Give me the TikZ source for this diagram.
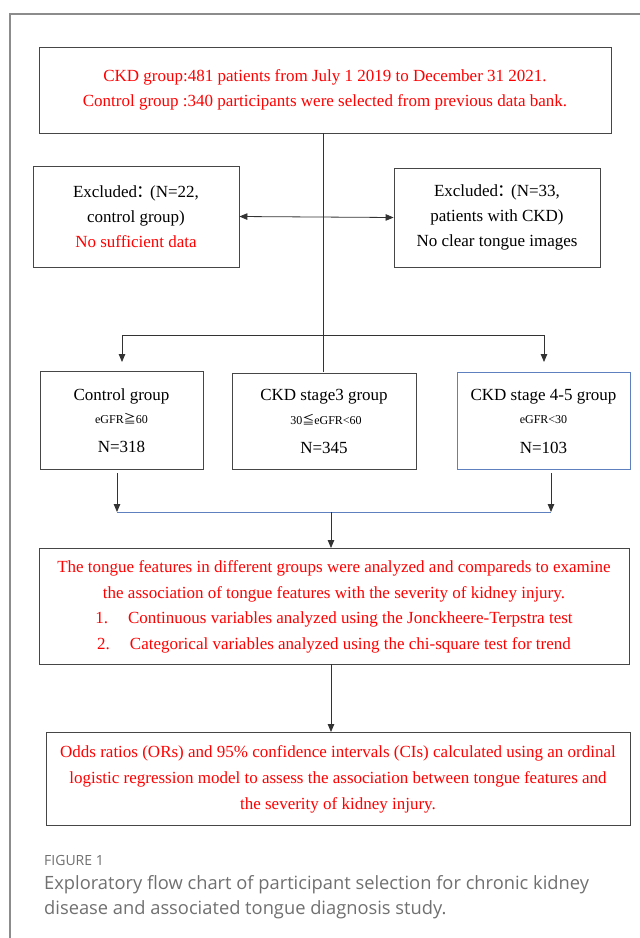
\documentclass[tikz,border=0pt]{standalone}
\usepackage{fontspec}
\setmainfont{Liberation Serif}
\newfontfamily\capfont{Open Sans}
\newfontfamily\cjk{Noto Sans CJK SC}
\usetikzlibrary{arrows.meta}
\definecolor{tred}{RGB}{255,0,0}
\definecolor{boxgray}{RGB}{70,70,70}
\definecolor{frameg}{RGB}{140,140,140}
\definecolor{bblue}{RGB}{95,128,190}
\definecolor{capg}{RGB}{112,112,112}
\tikzset{
  fbox/.style={draw=boxgray, line width=0.8pt, align=center, inner sep=0pt, font=\fontsize{17}{25}\selectfont},
  ttext/.style={align=center, inner sep=0pt, font=\fontsize{17}{25}\selectfont},
  conn/.style={draw=black!80, line width=0.8pt},
  arr/.style={conn, -{Triangle[length=8pt,width=6.5pt]}},
  darr/.style={conn, {Triangle[length=8pt,width=6.5pt]}-{Triangle[length=8pt,width=6.5pt]}},
  small/.style={font=\fontsize{12}{14}\selectfont},
  big/.style={font=\fontsize{17}{20}\selectfont}
}
\begin{document}
\begin{tikzpicture}[x=1pt,y=-1pt]
\useasboundingbox (0,0) rectangle (640,938);
\fill[white] (0,0) rectangle (640,938);
% outer frame
\draw[frameg, line width=2pt] (10,940) -- (10,14) -- (642,14);

% top box
\node[fbox, minimum width=572pt, minimum height=86pt, text=tred] (top) at (325,90)
  {CKD group:481 patients from July 1 2019 to December 31 2021.\\
   Control group :340 participants were selected from previous data bank.};

% excluded boxes
\node[fbox, minimum width=206pt, minimum height=101pt] (exl) at (136,216.5)
  {Excluded{\cjk\hspace{-1pt}：\hspace{-3pt}}(N=22,\\ control group)\\ \textcolor{tred}{No sufficient data}};
\node[fbox, minimum width=206pt, minimum height=99pt] (exr) at (497,217.5)
  {Excluded{\cjk\hspace{-1pt}：\hspace{-3pt}}(N=33,\\ patients with CKD)\\ No clear tongue images};

% group boxes
\node[fbox, minimum width=163pt, minimum height=98pt] (ctl) at (121.5,420) {};
\node[fbox, minimum width=184pt, minimum height=96pt] (st3) at (324,421) {};
\node[fbox, draw=bblue, minimum width=173pt, minimum height=97pt] (st45) at (543.5,420.5) {};
\node[big] (ctl1) at (121.5,396) {Control group};
\node[small] (ctl2) at (121.5,419) {eGFR{\cjk\fontsize{12}{14}\selectfont ≧}60};
\node[big] (ctl3) at (121.5,447) {N=318};
\node[big] (st31) at (324,397) {CKD stage3 group};
\node[small] (st32) at (326,420) {30{\cjk\fontsize{12}{14}\selectfont ≦}eGFR<60};
\node[big] (st33) at (324,448) {N=345};
\node[big] (s451) at (543.5,397) {CKD stage 4-5 group};
\node[small] (s452) at (543.5,420) {eGFR<30};
\node[big] (s453) at (543.5,448) {N=103};

% analysis box
\node[fbox, minimum width=590pt, minimum height=116pt] (ana) at (334,606) {};
\node[ttext, text=tred, font=\fontsize{17}{25.5}\selectfont] (anat) at (334,607)
  {The tongue features in different groups were analyzed and compareds to examine\\
   the association of tongue features with the severity of kidney injury.\\
   1.\hspace{20pt}Continuous variables analyzed using the Jonckheere-Terpstra test\\
   2.\hspace{20pt}Categorical variables analyzed using the chi-square test for trend};

% bottom box
\node[fbox, minimum width=584pt, minimum height=93pt] (res) at (338,778.5) {};
\node[ttext, text=tred, font=\fontsize{17}{26}\selectfont] (rest) at (338,779)
  {Odds ratios (ORs) and 95\% confidence intervals (CIs) calculated using an ordinal\\
   logistic regression model to assess the association between tongue features and\\
   the severity of kidney injury.};

% connectors
\coordinate (tb) at (323,133);
\coordinate (sb) at (323,372);
\draw[conn] (tb) -- (sb);
\draw[darr] (exl.east) -- (exr.west);
\coordinate (hl) at (122,335);
\coordinate (hr) at (544,335);
\coordinate (al) at (122,362);
\coordinate (ar) at (544,362);
\draw[conn] (hl) -- (hr);
\draw[arr] (hl) -- (al);
\draw[arr] (hr) -- (ar);
\coordinate (cl1) at (117,473);
\coordinate (cl2) at (117,512);
\coordinate (cr1) at (551,473);
\coordinate (cr2) at (551,512);
\draw[arr] (cl1) -- (cl2);
\draw[arr] (cr1) -- (cr2);
\draw[bblue, line width=0.8pt] (cl2) -- (cr2);
\coordinate (mid) at (331,512);
\coordinate (mid2) at (331,548);
\coordinate (low1) at (331,664);
\coordinate (low2) at (331,732);
\draw[arr] (mid) -- (mid2);
\draw[arr] (low1) -- (low2);

% caption
\node[anchor=base west, inner sep=0pt, text=capg, font=\capfont\fontsize{14}{16}\selectfont] (fig) at (44,865) {FIGURE 1};
\node[anchor=base west, inner sep=0pt, text=capg, font=\capfont\fontsize{18.3}{25}\selectfont] (cap1) at (44,889)
  {Exploratory flow chart of participant selection for chronic kidney};
\node[anchor=base west, inner sep=0pt, text=capg, font=\capfont\fontsize{18.3}{25}\selectfont] (cap2) at (44,914)
  {disease and associated tongue diagnosis study.};
\end{tikzpicture}
\end{document}
